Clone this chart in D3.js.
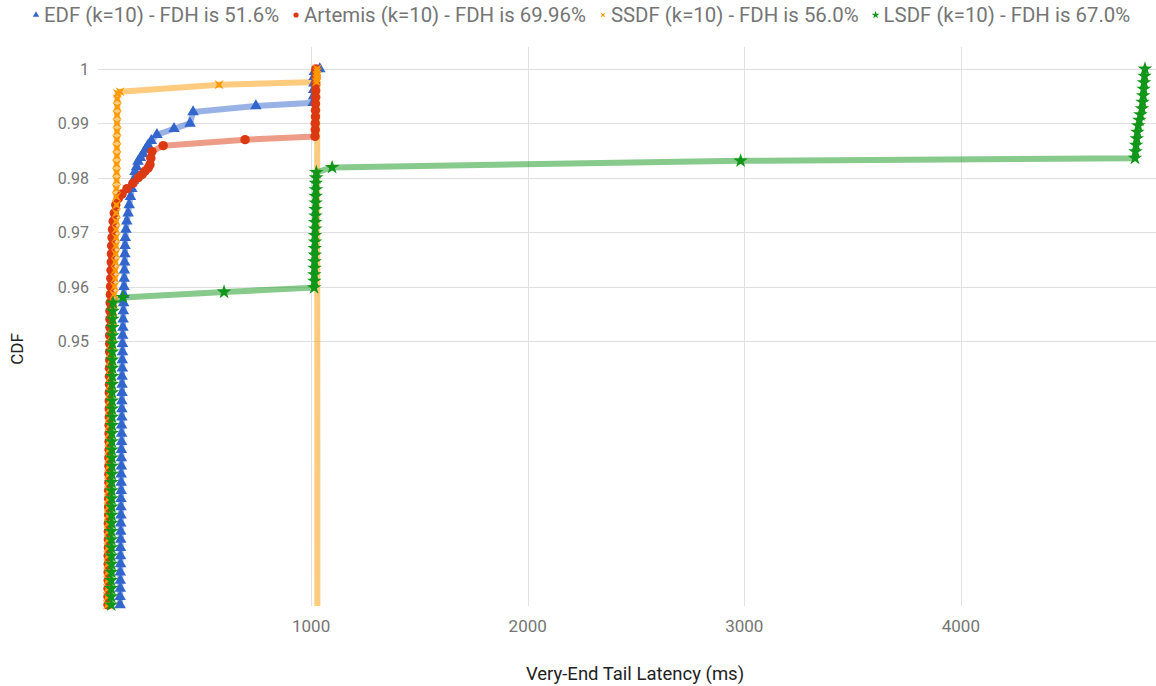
<!DOCTYPE html>
<html>
<head>
<meta charset="utf-8">
<script src="https://cdn.jsdelivr.net/npm/d3@7"></script>
<style>
  body { margin: 0; background: #fff; }
  text { font-family: Roboto, "Noto Sans", sans-serif; }
</style>
</head>
<body>
<script>
var width = 1156,
    height = 686;

// series names as in the legend
var seriesNames = [
  "EDF (k=10) - FDH is 51.6%",
  "Artemis (k=10) - FDH is 69.96%",
  "SSDF (k=10) - FDH is 56.0%",
  "LSDF (k=10) - FDH is 67.0%"
];

// [latency ms, CDF]
var edfPoints = [
  [118,0.9015],[118,0.9030],[119,0.9045],[119,0.9060],[119,0.9075],[120,0.9090],[120,0.9105],[120,0.9120],
  [121,0.9135],[121,0.9150],[121,0.9165],[122,0.9180],[122,0.9195],[122,0.9210],[123,0.9225],[123,0.9240],
  [123,0.9255],[124,0.9270],[124,0.9285],[124,0.9300],[125,0.9315],[125,0.9330],[125,0.9345],[126,0.9360],
  [126,0.9375],[126,0.9390],[127,0.9405],[127,0.9420],[127,0.9435],[128,0.9450],[128,0.9465],[129,0.9480],
  [129,0.9495],[130,0.9510],[131,0.9525],[132,0.9540],[133,0.9555],[134,0.9570],[135,0.9585],[136,0.9600],
  [137,0.9615],[138,0.9630],[139,0.9645],[140,0.9660],[141,0.9675],[142,0.9690],[145,0.9705],[149,0.9720],
  [155,0.9735],[160,0.9750],[166,0.9765],[172,0.9780],[180,0.9795],[187,0.9811],[194,0.9820],[201,0.9830],
  [212,0.9837],[224,0.9844],[235,0.9852],[247,0.9860],[262,0.9868],[288,0.9879],[367,0.9890],[441,0.9900],
  [455,0.9921],[745,0.9932],
  [1010,0.9938],[1011,0.9950],[1012,0.9962],[1013,0.9974],[1014,0.9986],[1015,0.9995],[1040,1.0]
];

var artemisPoints = [
  [62,0.9015],[62,0.9030],[62,0.9045],[63,0.9060],[63,0.9075],[63,0.9090],[63,0.9105],[64,0.9120],
  [64,0.9135],[64,0.9150],[64,0.9165],[65,0.9180],[65,0.9195],[65,0.9210],[65,0.9225],[66,0.9240],
  [66,0.9255],[66,0.9270],[66,0.9285],[67,0.9300],[67,0.9315],[67,0.9330],[67,0.9345],[68,0.9360],
  [68,0.9375],[68,0.9390],[68,0.9405],[69,0.9420],[69,0.9435],[69,0.9450],[70,0.9465],[70,0.9480],
  [70,0.9495],[70,0.9510],[71,0.9525],[71,0.9540],[71,0.9555],[72,0.9570],[73,0.9585],[74,0.9600],
  [75,0.9615],[76,0.9630],[77,0.9645],[78,0.9660],[79,0.9675],[81,0.9690],[83,0.9705],[86,0.9720],
  [91,0.9735],[98,0.9750],[110,0.9762],[127,0.9770],[150,0.9780],[178,0.9790],[202,0.9800],[220,0.9806],
  [233,0.9812],[248,0.9818],[256,0.9824],[260,0.9836],[265,0.9848],[317,0.9859],[695,0.9870],
  [1018,0.9876],[1019,0.9888],[1019,0.9900],[1020,0.9912],[1020,0.9924],[1020,0.9936],[1021,0.9948],
  [1021,0.9960],[1021,0.9972],[1022,0.9984],[1022,0.9996],[1022,1.0]
];

var ssdfPoints = [
  [60,0.9015],[60,0.9030],[61,0.9045],[61,0.9060],[61,0.9075],[62,0.9090],[62,0.9105],[62,0.9120],
  [63,0.9135],[63,0.9150],[63,0.9165],[64,0.9180],[64,0.9195],[64,0.9210],[65,0.9225],[65,0.9240],
  [65,0.9255],[66,0.9270],[66,0.9285],[66,0.9300],[67,0.9315],[68,0.9330],[68,0.9345],[69,0.9360],
  [70,0.9375],[71,0.9390],[72,0.9405],[73,0.9420],[74,0.9435],[75,0.9450],[76,0.9465],[77,0.9480],
  [78,0.9495],[80,0.9510],[82,0.9525],[84,0.9540],[86,0.9555],[88,0.9570],[90,0.9585],[92,0.9600],
  [94,0.9615],[95,0.9630],[96,0.9645],[97,0.9660],[98,0.9675],[99,0.9690],[99,0.9705],[100,0.9720],
  [100,0.9735],[101,0.9750],[101,0.9765],[101,0.9780],[102,0.9795],[102,0.9810],[102,0.9825],[103,0.9840],
  [103,0.9855],[103,0.9870],[104,0.9885],[104,0.9900],[104,0.9915],[105,0.9930],[105,0.9945],[106,0.9955],
  [118,0.9958],[575,0.9971],
  [1025,0.9976],[1026,0.9982],[1027,0.9988],[1028,0.9994],[1028,1.0],[1030,0.80]
];

var lsdfPoints = [
  [77,0.9015],[77,0.9030],[77,0.9045],[77,0.9060],[78,0.9075],[78,0.9090],[78,0.9105],[78,0.9120],
  [78,0.9135],[78,0.9150],[79,0.9165],[79,0.9180],[79,0.9195],[79,0.9210],[79,0.9225],[79,0.9240],
  [80,0.9255],[80,0.9270],[80,0.9285],[80,0.9300],[80,0.9315],[80,0.9330],[81,0.9345],[81,0.9360],
  [81,0.9375],[81,0.9390],[81,0.9405],[81,0.9420],[82,0.9435],[82,0.9450],[82,0.9465],[82,0.9480],
  [82,0.9495],[83,0.9510],[83,0.9525],[83,0.9540],[84,0.9555],[85,0.9570],
  [131,0.9580],[598,0.9590],
  [1014,0.9598],[1015,0.9610],[1015,0.9622],[1016,0.9634],[1016,0.9646],[1017,0.9658],[1017,0.9670],
  [1018,0.9682],[1018,0.9694],[1019,0.9706],[1019,0.9718],[1020,0.9730],[1020,0.9742],[1021,0.9754],
  [1021,0.9766],[1022,0.9778],[1022,0.9790],[1023,0.9800],[1024,0.9810],
  [1097,0.9819],[2983,0.9831],
  [4804,0.9836],[4806,0.9848],[4809,0.9860],[4812,0.9872],[4815,0.9884],[4819,0.9896],[4824,0.9906],
  [4829,0.9916],[4836,0.9927],[4839,0.9939],[4842,0.9951],[4844,0.9963],[4846,0.9975],[4848,0.9987],[4850,1.0]
];

var xTicks = [1000, 2000, 3000, 4000];
var yTicks = [0.95, 0.96, 0.97, 0.98, 0.99, 1];

var colors = ["#3366cc", "#dc3912", "#ff9900", "#109618"];
var shapes = ["triangle", "circle", "cross", "star"];

var allSeries = [edfPoints, artemisPoints, ssdfPoints, lsdfPoints];

createChart();

function createChart() {
  var left = 98, right = 1156, top = 47, bottom = 606;

  var x = d3.scaleLinear().domain([16, 4901]).range([left, right]);
  var y = d3.scaleLinear().domain([0.90128, 1.00403]).range([bottom, top]);

  var svg = d3.select("body").append("svg")
      .attr("width", width)
      .attr("height", height);

  svg.append("defs").append("clipPath").attr("id", "plot-clip")
    .append("rect")
      .attr("x", left).attr("y", top)
      .attr("width", right - left).attr("height", bottom - top);

  // gridlines
  svg.append("g").selectAll("line")
    .data(yTicks).enter().append("line")
      .attr("x1", left).attr("x2", right)
      .attr("y1", function(d) { return Math.round(y(d)) + 0.5; })
      .attr("y2", function(d) { return Math.round(y(d)) + 0.5; })
      .style("stroke", "#e0e0e0");

  svg.append("g").selectAll("line")
    .data(xTicks).enter().append("line")
      .attr("y1", top).attr("y2", bottom)
      .attr("x1", function(d) { return Math.round(x(d)) + 0.5; })
      .attr("x2", function(d) { return Math.round(x(d)) + 0.5; })
      .style("stroke", "#e0e0e0");

  // tick labels
  svg.append("g").selectAll("text")
    .data(yTicks).enter().append("text")
      .attr("x", 89)
      .attr("y", function(d) { return y(d) + 6; })
      .attr("text-anchor", "end")
      .style("font-size", "16px")
      .style("fill", "#757575")
      .text(function(d) { return d === 1 ? "1" : d3.format(".2f")(d); });

  svg.append("g").selectAll("text")
    .data(xTicks).enter().append("text")
      .attr("x", function(d) { return x(d); })
      .attr("y", 632)
      .attr("text-anchor", "middle")
      .style("font-size", "17px")
      .style("fill", "#757575")
      .text(function(d) { return d; });

  // axis titles
  svg.append("text")
      .attr("x", 635).attr("y", 680)
      .attr("text-anchor", "middle")
      .style("font-size", "18.5px")
      .style("fill", "#222")
      .text("Very-End Tail Latency (ms)");

  svg.append("text")
      .attr("transform", "translate(23,349) rotate(-90)")
      .attr("text-anchor", "middle")
      .style("font-size", "17px")
      .style("fill", "#222")
      .text("CDF");

  // marker shapes
  var crossPath = function(r) {
    var pts = [];
    for (var i = 0; i < 8; i++) {
      var a = Math.PI / 4 + i * Math.PI / 4;
      var rr = i % 2 === 0 ? r : r * 0.3;
      pts.push([rr * Math.cos(a), rr * Math.sin(a)]);
    }
    return "M" + pts.map(function(p) { return p[0].toFixed(2) + "," + p[1].toFixed(2); }).join("L") + "Z";
  };
  var markerPath = function(shape, scale) {
    if (shape === "triangle") return d3.symbol(d3.symbolTriangle, 58 * scale * scale)();
    if (shape === "circle") return d3.symbol(d3.symbolCircle, 70 * scale * scale)();
    if (shape === "star") return d3.symbol(d3.symbolStar, 66 * scale * scale)();
    return crossPath(6.5 * scale);
  };

  var line = d3.line()
      .x(function(d) { return x(d[0]); })
      .y(function(d) { return y(d[1]); });

  var plot = svg.append("g");

  // lines first, in series order
  var lineLayer = plot.append("g").attr("clip-path", "url(#plot-clip)");
  allSeries.forEach(function(pts, i) {
    lineLayer.append("path")
        .datum(pts)
        .attr("d", line)
        .style("fill", "none")
        .style("stroke", colors[i])
        .style("stroke-opacity", 0.5)
        .style("stroke-width", 6)
        .style("stroke-linejoin", "round")
        .style("stroke-linecap", "round");
  });

  // then points
  allSeries.forEach(function(pts, i) {
    var visible = pts.filter(function(d) { return d[1] >= y.domain()[0]; });
    plot.append("g").selectAll("path")
      .data(visible).enter().append("path")
        .attr("transform", function(d) { return "translate(" + x(d[0]) + "," + y(d[1]) + ")"; })
        .attr("d", markerPath(shapes[i], 1))
        .style("fill", colors[i]);
  });

  // legend
  var legend = svg.append("g");
  var cursor = 36;
  seriesNames.forEach(function(name, i) {
    legend.append("path")
        .attr("transform", "translate(" + cursor + ",15)")
        .attr("d", markerPath(shapes[i], 0.55))
        .style("fill", colors[i]);
    var t = legend.append("text")
        .attr("x", cursor + 8)
        .attr("y", 22)
        .style("font-size", "20.4px")
        .style("fill", "#757575")
        .text(name);
    cursor = cursor + 8 + t.node().getComputedTextLength() + 17;
  });
}
</script>
</body>
</html>
